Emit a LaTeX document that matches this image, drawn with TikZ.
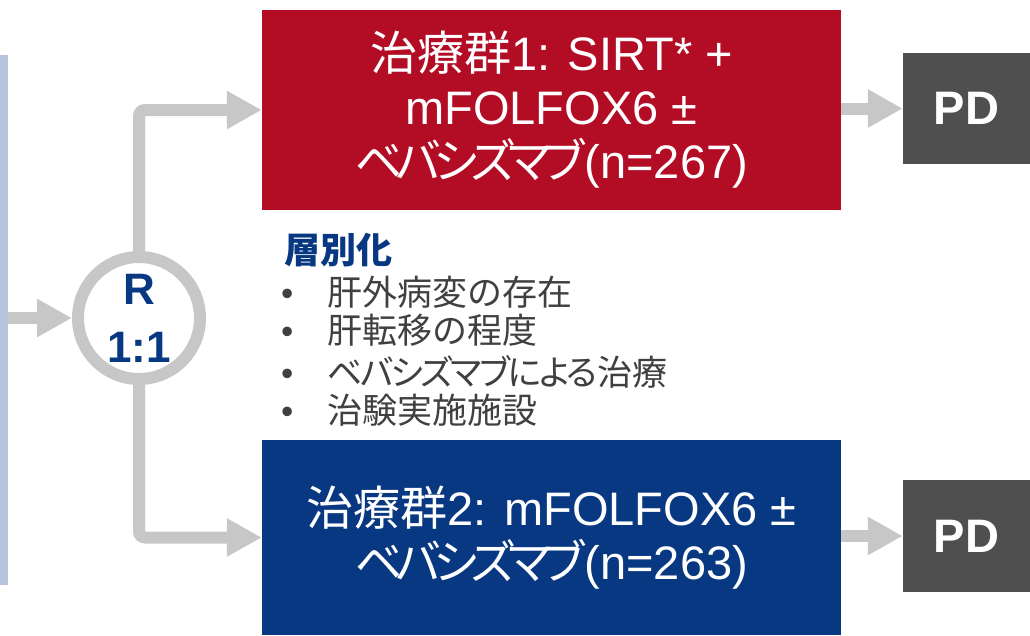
\documentclass[tikz,border=0pt]{standalone}
\usepackage{fontspec}
\setmainfont{Liberation Sans}
\newfontfamily\jp{Noto Sans CJK JP}
\newfontfamily\jpp{Noto Sans CJK JP}[RawFeature=+palt,LetterSpace=-14]
\newfontfamily\jpq{Noto Sans CJK JP}[RawFeature=+palt,LetterSpace=-7]
\usetikzlibrary{arrows.meta}
\definecolor{redbox}{RGB}{179,13,38}
\definecolor{bluebox}{RGB}{8,56,130}
\definecolor{arrgray}{RGB}{199,199,199}
\definecolor{pdgray}{RGB}{79,79,79}
\definecolor{barblue}{RGB}{180,196,220}
\definecolor{txtgray}{RGB}{64,64,64}
\begin{document}
\begin{tikzpicture}[x=1pt,y=-1pt,
  box/.style={minimum width=579pt, inner sep=0pt, align=center, text=white,
    font=\fontsize{47}{54}\selectfont},
  pd/.style={fill=pdgray, minimum width=127pt, minimum height=111pt, inner sep=0pt,
    text=white, font=\fontsize{47}{50}\selectfont\bfseries},
  arr/.style={draw=arrgray, line width=12pt, rounded corners=6pt,
    -{Triangle[length=35pt,width=36pt]}},
  item/.style={anchor=west, inner sep=0pt, text=txtgray,
    font=\fontsize{35}{40}\selectfont}]
\useasboundingbox (0,0) rectangle (1030,635);

\node[fill=barblue, minimum width=8pt, minimum height=530pt, inner sep=0pt] (bar) at (4,320) {};

\node[circle, draw=arrgray, line width=12pt, minimum size=122pt, inner sep=0pt,
  align=center, text=bluebox, font=\fontsize{44}{58}\selectfont\bfseries] (R) at (139,318) {R\\1:1};

\node[box, fill=redbox, minimum height=200pt] (g1) at (551.5,110)
  {{\jp 治療群}1: SIRT* +\\mFOLFOX6 ±\\{\jpp ベバシズマブ}(n=267)};
\node[box, fill=bluebox, minimum height=195pt] (g2) at (551.5,537.5)
  {{\jp 治療群}2: mFOLFOX6 ±\\{\jpp ベバシズマブ}(n=263)};

\node[pd] (pd1) at (966.5,108.5) {PD};
\node[pd, minimum height=112pt] (pd2) at (966.5,536) {PD};

\node[anchor=west, inner sep=0pt, text=bluebox, font=\jp\bfseries\fontsize{36}{40}\selectfont] (st) at (284,250) {層別化};
\node[item] (i1) at (281,292) {\makebox[46pt][l]{•}{\jp 肝外病変の存在}};
\node[item] (i2) at (281,330) {\makebox[46pt][l]{•}{\jp 肝転移の程度}};
\node[item] (i3) at (281,372) {\makebox[46pt][l]{•}{\jpq ベバシズマブによる}{\jp 治療}};
\node[item] (i4) at (281,410) {\makebox[46pt][l]{•}{\jp 治験実施施設}};

\draw[arr] (bar.east |- R.west) -- (R.west);
\draw[arr] (R.north) |- (g1.west);
\draw[arr] (R.south) |- (g2.west);
\draw[arr] (pd1.west -| g1.east) -- (pd1.west);
\draw[arr] (pd2.west -| g2.east) -- (pd2.west);
\end{tikzpicture}
\end{document}
